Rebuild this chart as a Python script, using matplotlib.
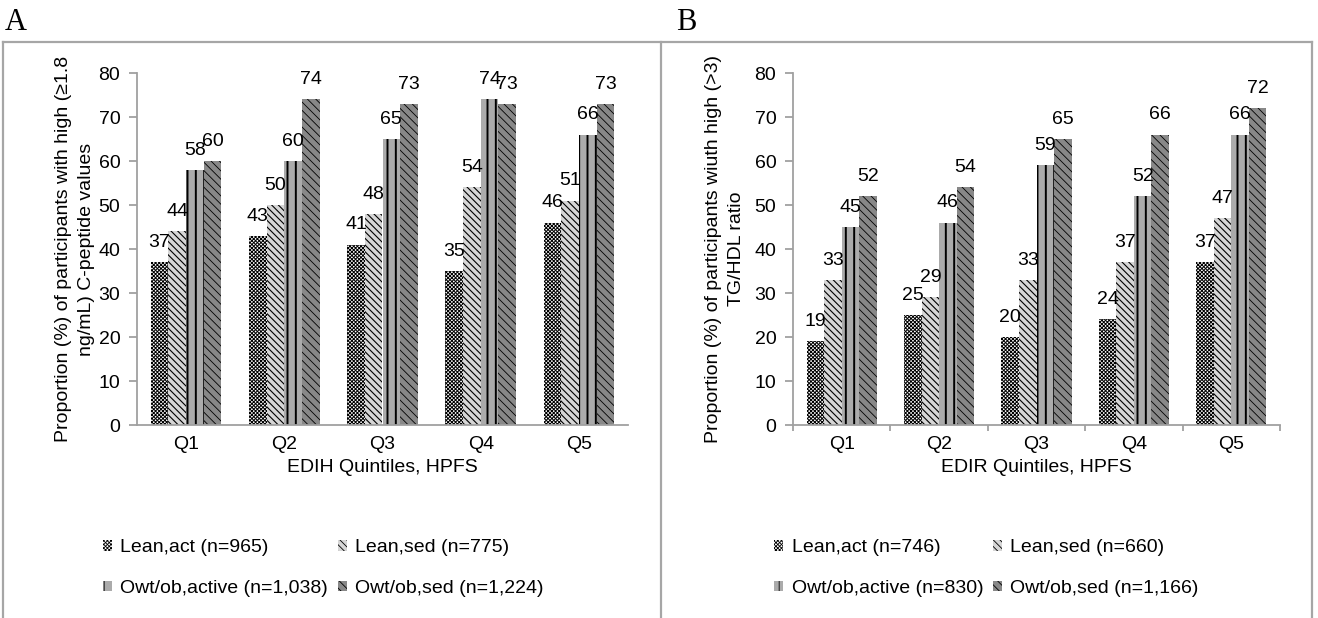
import matplotlib
matplotlib.use("Agg")
from matplotlib import pyplot as plt
from matplotlib.lines import Line2D
import numpy as np

quintiles = ["Q1", "Q2", "Q3", "Q4", "Q5"]

# panel A: high C-peptide (%)
a_lean_act = [37, 43, 41, 35, 46]
a_lean_sed = [44, 50, 48, 54, 51]
a_owt_act = [58, 60, 65, 74, 66]
a_owt_sed = [60, 74, 73, 73, 73]
a_names = ["Lean,act (n=965)", "Lean,sed (n=775)",
           "Owt/ob,active (n=1,038)", "Owt/ob,sed (n=1,224)"]

# panel B: high TG/HDL ratio (%)
b_lean_act = [19, 25, 20, 24, 37]
b_lean_sed = [33, 29, 33, 37, 47]
b_owt_act = [45, 46, 59, 52, 66]
b_owt_sed = [52, 54, 65, 66, 72]
b_names = ["Lean,act (n=746)", "Lean,sed (n=660)",
           "Owt/ob,active (n=830)", "Owt/ob,sed (n=1,166)"]

plt.rcParams["font.family"] = ["Liberation Sans", "DejaVu Sans"]

# (facecolor, hatch, hatch linewidth)
styles = [
    ("white", "xxxxxxxxx", 0.7),
    ("#d6d6d6", "\\\\\\\\\\", 0.8),
    ("#ababab", "||", 1.4),
    ("#888888", "\\\\\\\\", 0.6),
]
AXIS_GRAY = "#a0a0a0"
FS = 14

W, H = 1318, 618
fig = plt.figure(figsize=(W / 100, H / 100), dpi=100)


def panel(left, width, series, names, xlabel, ylabel, boundary_ticks, leg_x, ylab_x):
    ax = fig.add_axes([left / W, 1 - 425 / H, width / W, (425 - 73) / H])
    x = np.arange(len(quintiles))
    bw = 0.18
    handles = []
    for i, vals in enumerate(series):
        fc, hatch, hlw = styles[i]
        plt.rcParams["hatch.linewidth"] = hlw
        pos = x + (i - 1.5) * bw
        bars = ax.bar(pos, vals, bw, facecolor=fc, hatch=hatch, edgecolor="black",
                      linewidth=0, label=names[i])
        handles.append(bars)
        for p, v in zip(pos, vals):
            ax.annotate(f"{v:.0f}", (p, v), xytext=(0, 8), textcoords="offset points",
                        ha="center", va="bottom", fontsize=FS)
    ax.set_xlim(-0.5, len(quintiles) - 0.5)
    ax.set_ylim(0, 80)
    ax.set_yticks(range(0, 81, 10))
    ax.set_xticks(x)
    ax.set_xticklabels(quintiles)
    for s in ("top", "right"):
        ax.spines[s].set_visible(False)
    for s in ("left", "bottom"):
        ax.spines[s].set_color(AXIS_GRAY)
        ax.spines[s].set_linewidth(1.3)
    ax.tick_params(axis="y", colors=AXIS_GRAY, labelcolor="black", length=6,
                   width=1.3, labelsize=FS, pad=6)
    ax.tick_params(axis="x", length=0, labelsize=FS, pad=8)
    if boundary_ticks:
        ax.set_xticks(np.arange(-0.5, len(quintiles), 1.0), minor=True)
        ax.tick_params(axis="x", which="minor", length=4, width=1.3, color=AXIS_GRAY)
    ax.set_xlabel(xlabel, fontsize=FS, labelpad=4)
    ax.set_ylabel(ylabel, fontsize=FS, linespacing=1.45)
    ax.yaxis.set_label_coords(ylab_x, 0.5)
    order = [0, 2, 1, 3]
    ax.legend([handles[i] for i in order], [names[i] for i in order], ncol=2,
              loc="center left", bbox_to_anchor=(leg_x / W, 1 - 568 / H),
              bbox_transform=fig.transFigure, frameon=False, fontsize=FS,
              handlelength=0.45, handleheight=0.45, handletextpad=0.45,
              columnspacing=0.5, labelspacing=1.2, borderpad=0, borderaxespad=0)
    return ax


panel(137, 491, [a_lean_act, a_lean_sed, a_owt_act, a_owt_sed], a_names,
      "EDIH Quintiles, HPFS",
      "Proportion (%) of participants with high (\u22651.8\nng/mL) C-peptide values",
      False, 103, -0.086)
panel(793, 487, [b_lean_act, b_lean_sed, b_owt_act, b_owt_sed], b_names,
      "EDIR Quintiles, HPFS",
      "Proportion (%) of participants wiuth high (>3)\nTG/HDL ratio",
      True, 774, -0.099)

# panel frames
frame = dict(color="#a6a6a6", linewidth=1.6, transform=fig.transFigure)
top = 1 - 42 / H
fig.add_artist(Line2D([3 / W, 1312 / W], [top, top], **frame))
for xf in (3, 661, 1312):
    fig.add_artist(Line2D([xf / W, xf / W], [0, top], **frame))

for lbl, xp in (("A", 5), ("B", 676)):
    fig.text(xp / W, 1 - 23 / H, lbl, ha="left", va="center", fontsize=22,
             family=["Liberation Serif", "DejaVu Serif"])

fig.savefig("out.png", dpi=100)
